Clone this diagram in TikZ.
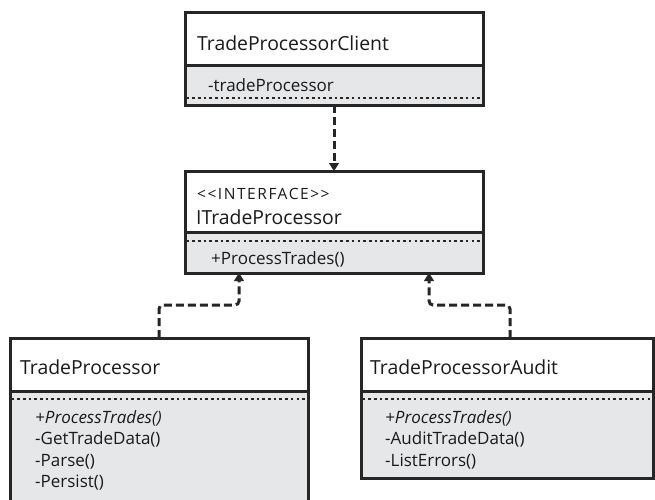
\documentclass[tikz,border=0pt]{standalone}
\usepackage{fontspec}
\setmainfont{Open Sans}
\usetikzlibrary{arrows.meta}
\definecolor{umlline}{HTML}{262626}
\definecolor{umlfill}{HTML}{E6E7E8}
\definecolor{umltext}{HTML}{1A1A1A}
\begin{document}
\begin{tikzpicture}[x=1pt,y=-1pt,
  boxpart/.style={draw=umlline, line width=3pt, rectangle, anchor=north west, inner sep=0pt, outer sep=0pt},
  titlepart/.style={boxpart, fill=white},
  memberpart/.style={boxpart, fill=umlfill},
  sepline/.style={draw=umlline, line width=2.8pt, dash pattern=on 2.6pt off 3.1pt},
  titletext/.style={anchor=base west, inner sep=0pt, text=umltext, font=\fontsize{19.4}{23}\selectfont},
  stereotext/.style={anchor=base west, inner sep=0pt, text=umltext, font=\fontsize{15.5}{19}\selectfont\addfontfeatures{LetterSpace=10}},
  membertext/.style={anchor=base west, inner sep=0pt, text=umltext, font=\fontsize{17}{20}\selectfont},
  dep/.style={draw=umlline, line width=3pt, dash pattern=on 8pt off 4pt, rounded corners=4pt,
    -{Triangle[width=10pt,length=8pt,line width=0.1pt]}},
]
\useasboundingbox (0,0) rectangle (655,499);
\fill[white] (0,0) rectangle (655,499);
\clip (0,0) rectangle (655,499);

% TradeProcessorClient
\node[titlepart, minimum width=298pt, minimum height=53pt] (client) at (185,12) {};
\node[memberpart, minimum width=298pt, minimum height=40pt] (clientm) at (client.south west) {};
\node[titletext] (clientname) at (197,50) {TradeProcessorClient};
\node[membertext] (clientattr) at (208,91) {-tradeProcessor};
\draw[sepline] ([xshift=1.5pt,yshift=7pt]clientm.south west) -- ([xshift=-1.5pt,yshift=7pt]clientm.south east);

% ITradeProcessor
\node[titlepart, minimum width=298pt, minimum height=61pt] (iface) at (185,171) {};
\node[memberpart, minimum width=298pt, minimum height=41pt] (ifacem) at (iface.south west) {};
\node[stereotext] (ifacestereo) at (197,199) {{<}\kern1.5pt{<}INTERFACE{>}\kern1.5pt{>}};
\node[titletext] (ifacename) at (196,224) {ITradeProcessor};
\node[membertext] (ifaceop) at (211,264) {+ProcessTrades()};
\draw[sepline] ([xshift=1.5pt,yshift=-9pt]ifacem.north west) -- ([xshift=-1.5pt,yshift=-9pt]ifacem.north east);

% TradeProcessor
\node[titlepart, minimum width=298pt, minimum height=53pt] (tp) at (10,338) {};
\node[memberpart, minimum width=298pt, minimum height=130pt] (tpm) at (tp.south west) {};
\node[titletext] (tpname) at (20,374) {TradeProcessor};
\node[membertext] (tpop1) at (35,423) {\itshape +ProcessTrades()};
\node[membertext] (tpop2) at (35,444.5) {-GetTradeData()};
\node[membertext] (tpop3) at (35,466) {-Parse()};
\node[membertext] (tpop4) at (35,487.5) {-Persist()};
\draw[sepline] ([xshift=1.5pt,yshift=-8pt]tpm.north west) -- ([xshift=-1.5pt,yshift=-8pt]tpm.north east);

% TradeProcessorAudit
\node[titlepart, minimum width=292pt, minimum height=53pt] (audit) at (361,338) {};
\node[memberpart, minimum width=292pt, minimum height=87pt] (auditm) at (audit.south west) {};
\node[titletext] (auditname) at (370,374) {TradeProcessorAudit};
\node[membertext] (auop1) at (385,423) {\itshape +ProcessTrades()};
\node[membertext] (auop2) at (385,444.5) {-AuditTradeData()};
\node[membertext] (auop3) at (385,466) {-ListErrors()};
\draw[sepline] ([xshift=1.5pt,yshift=-8pt]auditm.north west) -- ([xshift=-1.5pt,yshift=-8pt]auditm.north east);

% connectors
\coordinate (tpbend) at (239,305);
\coordinate (aubend) at (429,305);
\draw[dep] (clientm.south) -- (iface.north);
\draw[dep] (tp.north) |- (tpbend) -- (tpbend |- ifacem.south);
\draw[dep] ([xshift=3pt]audit.north) |- (aubend) -- (aubend |- ifacem.south);
\end{tikzpicture}
\end{document}
